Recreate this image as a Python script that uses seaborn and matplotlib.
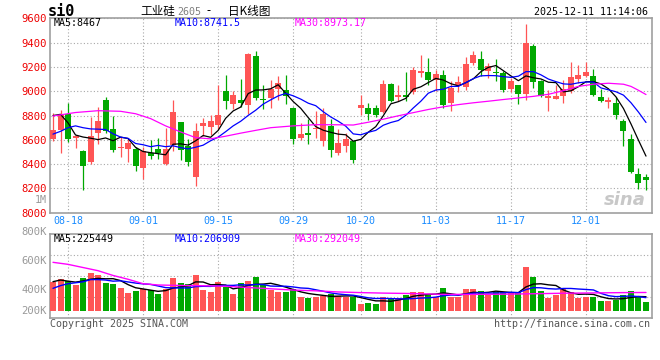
import numpy as np
import pandas as pd
import matplotlib
matplotlib.use("Agg")
import matplotlib.pyplot as plt
import seaborn as sns

# ---------------- data ----------------
open_ = [8606, 8679, 8810, 8617, 8508, 8421, 8660, 8932, 8687, 8530,
         8524, 8524, 8370, 8492, 8524, 8405, 8560, 8745, 8551, 8298,
         8715, 8706, 8720, 9006, 8891, 8924, 8889, 9291, 8932, 8946,
         9019, 9014, 8859, 8614, 8655, 8690, 8592, 8715, 8492, 8551,
         8587, 8859, 8859, 8859, 8829, 9063, 8951, 8968, 8990, 9150,
         9155, 9095, 9136, 8900, 9049, 9036, 9231, 9264, 9163, 9155,
         9150, 9019, 9055, 8981, 9373, 9087, 8948, 8940, 8959, 9000,
         9104, 9123, 9128, 8954, 8915, 8905, 8753, 8606, 8315, 8293]
high_ = [8818, 8842, 8900, 8638, 8519, 8790, 8872, 8950, 8796, 8625,
         8619, 8538, 8540, 8600, 8619, 8695, 8924, 8750, 8611, 8736,
         8783, 8802, 9055, 9136, 9006, 9101, 9313, 9332, 9055, 9095,
         9123, 9136, 8870, 8742, 8774, 8837, 8864, 8774, 8693, 8660,
         8590, 8973, 8900, 8883, 9095, 9070, 9055, 9160, 9200, 9299,
         9278, 9177, 9177, 9087, 9128, 9286, 9335, 9332, 9231, 9267,
         9163, 9109, 9055, 9552, 9390, 9090, 9008, 9055, 9095, 9237,
         9218, 9242, 9182, 9019, 8954, 8954, 8769, 8647, 8369, 8320]
low_ = [8589, 8491, 8584, 8530, 8184, 8402, 8565, 8660, 8502, 8461,
        8421, 8347, 8274, 8440, 8446, 8390, 8505, 8437, 8388, 8217,
        8633, 8638, 8687, 8851, 8851, 8872, 8810, 8927, 8856, 8859,
        8932, 8891, 8565, 8600, 8565, 8619, 8551, 8456, 8476, 8502,
        8413, 8802, 8764, 8790, 8818, 8910, 8919, 8919, 8980, 9117,
        9055, 9000, 8859, 8837, 8992, 9014, 9218, 9123, 9109, 9082,
        8992, 8992, 8897, 8932, 9027, 8951, 8837, 8940, 8900, 8986,
        9068, 9117, 8965, 8910, 8864, 8774, 8546, 8330, 8192, 8184]
close_ = [8679, 8810, 8606, 8633, 8388, 8630, 8753, 8674, 8519, 8535,
          8573, 8388, 8505, 8470, 8495, 8524, 8826, 8520, 8419, 8671,
          8742, 8753, 8802, 8919, 8973, 8902, 9308, 8948, 8925, 9019,
          9068, 8959, 8606, 8647, 8638, 8695, 8810, 8519, 8573, 8611,
          8432, 8883, 8815, 8802, 9063, 8919, 8973, 8951, 9177, 9163,
          9095, 9144, 8883, 9027, 9074, 9226, 9302, 9177, 9204, 9150,
          9014, 9087, 8981, 9400, 9074, 8965, 8952, 8965, 9019, 9117,
          9136, 9155, 8973, 8919, 8919, 8804, 8674, 8339, 8247, 8266]
volume_k = [462, 499, 473, 415, 515, 599, 567, 441, 425, 362,
            284, 320, 347, 331, 268, 341, 520, 441, 425, 567,
            331, 305, 457, 383, 268, 441, 473, 536, 404, 331,
            305, 305, 347, 221, 205, 221, 236, 273, 236, 221,
            221, 110, 131, 116, 221, 189, 205, 252, 295, 304,
            252, 226, 357, 215, 215, 346, 346, 315, 252, 304,
            294, 294, 304, 698, 530, 320, 210, 252, 346, 304,
            205, 226, 226, 160, 163, 173, 252, 320, 235, 147]

# moving-average values visible before enough bars exist on the chart
ma5_head = [8800, 8810, 8740, 8640]
ma10_head = [8647, 8670, 8700, 8715, 8700, 8690, 8688, 8685, 8650]
ma30_idx = [0, 3, 6, 9, 11, 13, 15, 17, 19, 21, 23, 25, 27, 29, 32, 35, 38, 40,
            42, 44, 46, 48, 50, 52, 54, 56, 58, 60, 62, 64, 66, 68, 70, 72, 74,
            76, 77, 78, 79]
ma30_val = [8796, 8825, 8840, 8835, 8815, 8775, 8715, 8665, 8618, 8608, 8630,
            8655, 8678, 8700, 8715, 8725, 8724, 8722, 8745, 8770, 8798, 8824,
            8850, 8872, 8890, 8905, 8918, 8932, 8945, 8958, 8975, 9005, 9040,
            9058, 9066, 9058, 9040, 9008, 8973]
vma5_head = [462, 488, 470, 455]
vma10_head = [357, 400, 430, 445, 460, 495, 495, 488, 470]
vma30_idx = [0, 2, 4, 6, 8, 10, 12, 14, 17, 20, 23, 26, 29, 32, 35, 38, 41,
             44, 48, 52, 56, 60, 64, 68, 72, 76, 79]
vma30_val = [767, 735, 685, 635, 560, 500, 430, 410, 402, 398, 390, 370, 350,
             330, 318, 300, 290, 282, 275, 262, 262, 265, 272, 280, 285, 290, 292]

tick_labels = ["08-18", "09-01", "09-15", "09-29", "10-20", "11-03", "11-17", "12-01"]
price_ticks = [9600, 9400, 9200, 9000, 8800, 8600, 8400, 8200, 8000]
vol_labels = ["800K", "600K", "400K", "200K"]

# trading calendar (weekdays minus the National Day holiday)
days = pd.bdate_range("2025-08-14", "2025-12-11")
days = days[~((days >= "2025-10-01") & (days <= "2025-10-08"))]
day_labels = list(days.strftime("%m-%d"))
tick_pos = [day_labels.index(t) for t in tick_labels]

o = np.array(open_, float); h = np.array(high_, float)
l = np.array(low_, float); c = np.array(close_, float)
v = np.array(volume_k, float)
n = len(c)
x = np.arange(n)

ma5 = pd.Series(c).rolling(5).mean().to_numpy()
ma5[:4] = ma5_head
ma10 = pd.Series(c).rolling(10).mean().to_numpy()
ma10[:9] = ma10_head
vma5 = pd.Series(v).rolling(5).mean().to_numpy()
vma5[:4] = vma5_head
vma10 = pd.Series(v).rolling(10).mean().to_numpy()
vma10[:9] = vma10_head

# ---------------- style ----------------
sns.set_theme(style="white")
plt.rcParams['font.family'] = ['DejaVu Sans Mono', 'Noto Sans CJK SC']

RED = "#ff5555"
GREEN = "#00a800"
GRID = "#a8a8a8"
FRAME = "#a0a0a0"
W, H = 660, 360

fig = plt.figure(figsize=(6.6, 3.6), dpi=100)
fig.patch.set_facecolor("white")

def fx(px):
    return px / W

def fy(py):
    return 1 - py / H

ax = fig.add_axes([fx(50), fy(212.7), 602 / W, (212.7 - 18.4) / H])
axv = fig.add_axes([fx(50), fy(318), 602 / W, 84 / H])

up = c >= o
cols = np.where(up, RED, GREEN)

# ---------------- price pane ----------------
ax.vlines(x, l, h, colors=cols, linewidth=0.9, zorder=2)
body_bottom = np.minimum(o, c)
body_h = np.maximum(np.abs(c - o), 10)
ax.bar(x, body_h, bottom=body_bottom, width=0.8, color=cols, linewidth=0, zorder=3)

sns.lineplot(x=x, y=ma5, ax=ax, color="black", linewidth=0.9, sort=False, zorder=4)
sns.lineplot(x=x, y=ma10, ax=ax, color="#0000ff", linewidth=0.9, sort=False, zorder=4)
sns.lineplot(x=ma30_idx, y=ma30_val, ax=ax, color="#ff00ff", linewidth=0.9, sort=False, zorder=4)

ax.set_xlim(-0.4, 79.8)
ax.set_ylim(8000, 9600)
ax.set_yticks(price_ticks)
ax.set_yticklabels([str(t) for t in price_ticks])
ax.set_xticks(tick_pos)
ax.set_xticklabels(tick_labels)
ax.tick_params(axis="y", length=0, pad=2, labelsize=7.6, labelcolor="#ee0000")
ax.tick_params(axis="x", length=0, pad=2.5, labelsize=7.2, labelcolor="#1a8cff")
ax.grid(True, linestyle=(0, (1, 2)), color=GRID, linewidth=0.8)
ax.set_xlabel(""); ax.set_ylabel("")
for s in ax.spines.values():
    s.set_color(FRAME); s.set_linewidth(1.2)
ax.set_facecolor("white")

# ---------------- volume pane ----------------
axv.bar(x, v, width=0.8, color=cols, linewidth=0, zorder=3)
sns.lineplot(x=x, y=vma5, ax=axv, color="black", linewidth=1.0, sort=False, zorder=4)
sns.lineplot(x=x, y=vma10, ax=axv, color="#0000ff", linewidth=1.0, sort=False, zorder=4)
sns.lineplot(x=vma30_idx, y=vma30_val, ax=axv, color="#ff00ff", linewidth=1.0, sort=False, zorder=4)
axv.set_xlim(-0.4, 79.8)
vlo, vhi = -110, 1213
axv.set_ylim(vlo, vhi)
axv.set_yticks([vlo + (vhi - vlo) * k / 4 for k in (1, 2, 3)])
axv.set_yticklabels([])
axv.set_xticks(tick_pos)
axv.set_xticklabels([])
axv.tick_params(length=0)
axv.grid(True, linestyle=(0, (1, 2)), color=GRID, linewidth=0.8)
axv.set_xlabel(""); axv.set_ylabel("")
for s in axv.spines.values():
    s.set_color(FRAME); s.set_linewidth(1.2)

# ---------------- texts ----------------
def t(px, py, s, **kw):
    fig.text(fx(px), fy(py), s, va="center", **kw)

t(48, 12, "si0", fontsize=11, fontweight="bold", color="black")
cjk = ['Noto Sans CJK SC', 'DejaVu Sans']
t(140, 11, "工业硅", fontsize=8.4, color="black", family=cjk)
t(177, 12, "2605", fontsize=7.2, color="#808080")
t(206, 11, "-", fontsize=8.4, color="black", family=cjk)
t(228, 11, "日K线图", fontsize=8.4, color="black", family=cjk)
t(648, 12, "2025-12-11 11:14:06", fontsize=7.2, color="black", ha="right")

t(54, 23.5, "MA5:8467", fontsize=7.2, color="black")
t(175, 23.5, "MA10:8741.5", fontsize=7.2, color="#0000ff")
t(295, 23.5, "MA30:8973.17", fontsize=7.2, color="#ff00ff")
t(47, 200, "1M", fontsize=7.2, color="#999999", ha="right")

t(54, 238.5, "MA5:225449", fontsize=7.2, color="black")
t(175, 238.5, "MA10:206909", fontsize=7.2, color="#0000ff")
t(295, 238.5, "MA30:292049", fontsize=7.2, color="#ff00ff")
for lab, py in zip(vol_labels, [232, 261, 290, 311]):
    t(47, py, lab, fontsize=7.6, color="#999999", ha="right")

t(50, 324, "Copyright 2025 SINA.COM", fontsize=7.2, color="#555555")
t(650, 324, "http://finance.sina.com.cn", fontsize=7.2, color="#555555", ha="right")

fig.text(fx(646), fy(200), "sina", fontsize=13, fontstyle="italic", fontweight="bold",
         color="#c8c8c8", ha="right", va="center", family="DejaVu Sans")

fig.savefig("out.png", dpi=100, facecolor="white")
